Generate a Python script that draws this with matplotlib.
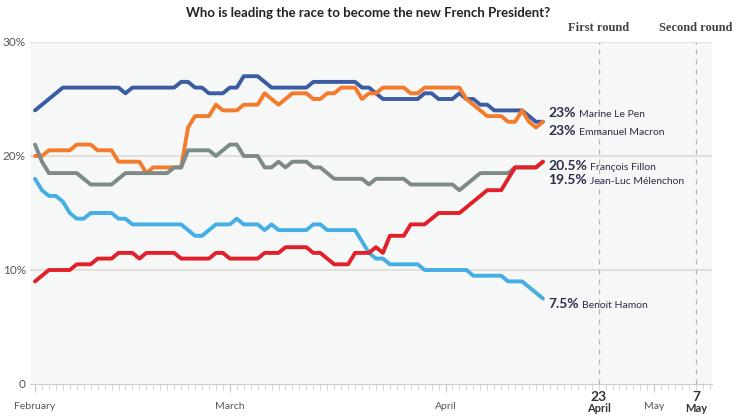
import matplotlib
matplotlib.use('Agg')
import matplotlib.pyplot as plt
import matplotlib.dates as mdates
import matplotlib.transforms as mtransforms
import pandas as pd

plt.rcParams['font.family'] = ['Lato', 'DejaVu Sans']

# daily polling average, 1 Feb -> 15 Apr 2017
dates = pd.date_range('2017-02-01', periods=74, freq='D').to_pydatetime()

le_pen = [24, 24.5, 25, 25.5, 26] + [26] * 8 + [25.5] + [26] * 7 + [26.5, 26.5, 26, 26] + \
    [25.5] * 3 + [26, 26] + [27] * 3 + [26.5] + [26] * 6 + [26.5] * 7 + [26, 26, 25.5] + \
    [25] * 6 + [25.5, 25.5] + [25] * 3 + [25.5, 25, 25, 24.5, 24.5] + [24] * 5 + [23.5, 23, 23]

macron = [20, 20] + [20.5] * 4 + [21] * 3 + [20.5] * 3 + [19.5] * 4 + [18.5] + [19] * 5 + \
    [22.5] + [23.5] * 3 + [24.5] + [24] * 3 + [24.5] * 3 + [25.5, 25, 24.5, 25] + [25.5] * 3 + \
    [25, 25, 25.5, 25.5] + [26] * 3 + [25, 25.5, 25.5] + [26] * 4 + [25.5] * 2 + [26] * 6 + \
    [25, 24.5, 24] + [23.5] * 3 + [23, 23, 24, 23, 22.5, 23]

fillon = [21, 19.5] + [18.5] * 5 + [18] + [17.5] * 4 + [18] + [18.5] * 7 + [19, 19] + \
    [20.5] * 4 + [20, 20.5, 21, 21] + [20] * 3 + [19, 19, 19.5, 19] + [19.5] * 3 + [19, 19, 18.5] + \
    [18] * 5 + [17.5] + [18] * 5 + [17.5] * 7 + [17, 17.5, 18] + [18.5] * 5 + [19] * 4 + [19.5]

melenchon = [9, 9.5] + [10] * 4 + [10.5] * 3 + [11] * 3 + [11.5] * 3 + [11] + [11.5] * 5 + \
    [11] * 5 + [11.5] * 2 + [11] * 5 + [11.5] * 3 + [12] * 4 + [11.5] * 2 + [11] + [10.5] * 3 + \
    [11.5] * 3 + [12, 11.5] + [13] * 3 + [14] * 3 + [14.5] + [15] * 4 + [15.5, 16, 16.5] + \
    [17] * 3 + [18] + [19] * 4 + [19.5]

hamon = [18, 17, 16.5, 16.5, 16, 15, 14.5, 14.5] + [15] * 4 + [14.5] * 2 + [14] * 8 + \
    [13.5, 13, 13, 13.5] + [14] * 3 + [14.5] + [14] * 3 + [13.5, 14] + [13.5] * 5 + [14] * 2 + \
    [13.5] * 5 + [12.5, 11.5, 11, 11] + [10.5] * 5 + [10] * 7 + [9.5] * 5 + [9] * 3 + [8.5, 8, 7.5]

# drawn bottom to top
series = [le_pen, macron, fillon, hamon, melenchon]
colors = ['#3b5ca3', '#f47a2c', '#7e8a88', '#45aee3', '#e2202a']

end_pcts = ['23%', '23%', '20.5%', '19.5%', '7.5%']
end_names = ['Marine Le Pen', 'Emmanuel Macron', 'François Fillon', 'Jean-Luc Mélenchon', 'Benoit Hamon']
label_y = [23.4, 21.8, 18.8, 17.5, 6.7]

first_round = pd.Timestamp('2017-04-23')
second_round = pd.Timestamp('2017-05-07')

fig = plt.figure(figsize=(7.36, 4.2), dpi=100)
ax = fig.add_axes([30 / 736, 1 - 384 / 420, 682 / 736, 342 / 420])
ax.set_facecolor('#f6f7f7')

start = pd.Timestamp(dates[0])
ax.set_xlim(start - pd.Timedelta(days=0.72), start + pd.Timedelta(days=97.3))
ax.set_ylim(0, 30)

for v in [10, 20, 30]:
    ax.axhline(v, color='#e1dcd4', lw=1.2, zorder=1)

for d in [first_round, second_round]:
    ax.axvline(d, ymin=0, ymax=1.0, color='#b5b5b5', lw=0.9, dashes=(4, 4), zorder=1)

for vals, c in zip(series, colors):
    ax.plot(dates, vals, color=c, lw=2.8, solid_joinstyle='round', solid_capstyle='round', zorder=3)

for sp in ['top', 'right', 'left']:
    ax.spines[sp].set_visible(False)
ax.spines['bottom'].set_color('#cccccc')

ax.set_yticks([0, 10, 20, 30])
ax.set_yticklabels(['0', '10%', '20%', '30%'])
ax.tick_params(axis='y', length=0, pad=3, labelsize=8.5, labelcolor='#555555')

ax.xaxis.set_major_locator(mdates.MonthLocator())
ax.xaxis.set_major_formatter(mdates.DateFormatter('%B'))
ax.xaxis.set_minor_locator(mdates.DayLocator())
ax.tick_params(axis='x', which='major', length=6, color='#c4c4c4', pad=7, labelsize=7.5, labelcolor='#555555')
ax.tick_params(axis='x', which='minor', length=4, color='#cfcfcf')

# round dates under the axis and above the plot
for d, day, month, top in [(first_round, '23', 'April', 'First round'), (second_round, '7', 'May', 'Second round')]:
    ax.annotate(day, xy=(d, 0), xycoords=('data', 'axes fraction'), xytext=(0, -9.5),
                textcoords='offset points', ha='center', va='center', fontsize=10,
                fontweight='bold', color='#333333')
    ax.annotate(month, xy=(d, 0), xycoords=('data', 'axes fraction'), xytext=(0, -17.5),
                textcoords='offset points', ha='center', va='center', fontsize=8,
                fontweight='bold', color='#333333')
    ax.annotate(top, xy=(d, 1), xycoords=('data', 'axes fraction'), xytext=(0, 10),
                textcoords='offset points', ha='center', va='center', fontsize=9,
                fontweight='bold', color='#444444', family=['Liberation Serif'])

fig.text(0.5, 1 - 13 / 420, 'Who is leading the race to become the new French President?',
         ha='center', va='center', fontsize=9.5, fontweight='bold', color='#222222')

# end labels
fig.canvas.draw()
x_lab = start + pd.Timedelta(days=73.8)
for pct, name, yv in zip(end_pcts, end_names, label_y):
    t = ax.text(x_lab, yv, pct, fontsize=10, fontweight='bold', color='#2b2e48', va='baseline')
    fig.canvas.draw()
    w = t.get_window_extent().width
    tr = mtransforms.offset_copy(ax.transData, fig=fig, x=w + 3, y=0, units='dots')
    ax.text(x_lab, yv, name, fontsize=7.5, color='#2b2e48', va='baseline', transform=tr)

fig.savefig('out.png', dpi=100)
